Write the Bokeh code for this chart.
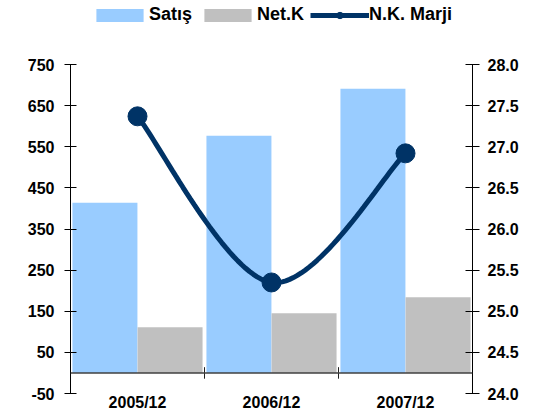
import numpy as np
from bokeh.plotting import figure
from bokeh.models import (Range1d, LinearAxis, FixedTicker, Span, Legend, LegendItem,
                          NumeralTickFormatter, ColumnDataSource)
from bokeh.embed import file_html
from bokeh.resources import INLINE

categories = ["2005/12", "2006/12", "2007/12"]
satis = [414, 577, 691]
net_k = [111, 145, 184]
nk_marji = [27.37, 25.35, 26.92]
left_ticks = [-50, 50, 150, 250, 350, 450, 550, 650, 750]
right_ticks = [24.0, 24.5, 25.0, 25.5, 26.0, 26.5, 27.0, 27.5, 28.0]

FONT = "Liberation Sans"
W, H = 542, 416
BORDER_LR, BORDER_B, HEADROOM = 70, 23, 64   # pixels; headroom above top tick holds the legend
n = len(categories)
x_centers = [i + 0.5 for i in range(n)]
bar_w = 0.485
off = 0.243

# extend the ranges so the frame reaches the top of the canvas (legend lives inside it)
frame_h = H - BORDER_B
axis_px = frame_h - HEADROOM
l_lo, l_hi = left_ticks[0], left_ticks[-1]
r_lo, r_hi = right_ticks[0], right_ticks[-1]
l_end = l_hi + HEADROOM * (l_hi - l_lo) / axis_px
r_end = r_hi + HEADROOM * (r_hi - r_lo) / axis_px

p = figure(width=W, height=H, x_range=Range1d(0, n), y_range=Range1d(l_lo, l_end),
           output_backend="svg", toolbar_location=None,
           min_border_left=BORDER_LR, min_border_right=BORDER_LR, min_border_top=0, min_border_bottom=BORDER_B)
p.extra_y_ranges = {"marj": Range1d(r_lo, r_end)}
p.outline_line_color = None
p.xgrid.visible = False
p.ygrid.visible = False

src = ColumnDataSource(dict(x=x_centers, satis=satis, net_k=net_k, marj=nk_marji,
                            xs=[x - off for x in x_centers], xn=[x + off for x in x_centers]))
r1 = p.vbar(x="xs", top="satis", bottom=0, width=bar_w, source=src, fill_color="#99CCFF", line_color=None)
r2 = p.vbar(x="xn", top="net_k", bottom=0, width=bar_w, source=src, fill_color="#C0C0C0", line_color=None)

# zero line with category separators
p.add_layout(Span(location=0, dimension="width", line_color="#404040", line_width=1.5))
bx = list(range(n + 1))
p.segment(x0=bx, x1=bx, y0=[-14] * (n + 1), y1=[14] * (n + 1), line_color="#202020", line_width=1)

# smoothed line (Bezier through data points)
def smooth(xs, ys, steps=40):
    pts = list(zip(xs, ys))
    ox, oy = [], []
    t = np.linspace(0, 1, steps)
    for i in range(len(pts) - 1):
        p0 = pts[max(i - 1, 0)]; p1 = pts[i]; p2 = pts[i + 1]; p3 = pts[min(i + 2, len(pts) - 1)]
        c1 = (p1[0] + (p2[0] - p0[0]) / 6, p1[1] + (p2[1] - p0[1]) / 6)
        c2 = (p2[0] - (p3[0] - p1[0]) / 6, p2[1] - (p3[1] - p1[1]) / 6)
        bxs = (1 - t) ** 3 * p1[0] + 3 * (1 - t) ** 2 * t * c1[0] + 3 * (1 - t) * t ** 2 * c2[0] + t ** 3 * p2[0]
        bys = (1 - t) ** 3 * p1[1] + 3 * (1 - t) ** 2 * t * c1[1] + 3 * (1 - t) * t ** 2 * c2[1] + t ** 3 * p2[1]
        ox += list(bxs); oy += list(bys)
    return ox, oy

sx, sy = smooth(x_centers, nk_marji)
rl = p.line(sx, sy, line_color="#003366", line_width=5, y_range_name="marj")
rs = p.scatter(x="x", y="marj", source=src, size=19, fill_color="#003366", line_color="#003366", y_range_name="marj")

# left axis
ya = p.yaxis[0]
ya.bounds = (l_lo, l_hi)
ya.ticker = FixedTicker(ticks=left_ticks)
ya.major_label_overrides = {t: str(t) for t in left_ticks}
ya.minor_tick_line_color = None
ya.major_tick_in = 6
ya.major_tick_out = 6
ya.major_label_standoff = 10
ya.axis_line_color = "black"
ya.major_tick_line_color = "black"
ya.major_label_text_font = FONT
ya.major_label_text_font_style = "bold"
ya.major_label_text_font_size = "16px"
ya.major_label_text_color = "black"

# right axis
ra = LinearAxis(y_range_name="marj", ticker=FixedTicker(ticks=right_ticks),
                formatter=NumeralTickFormatter(format="0.0"), bounds=(r_lo, r_hi))
ra.minor_tick_line_color = None
ra.major_tick_in = 7
ra.major_tick_out = 7
ra.major_label_standoff = 8
ra.axis_line_color = "black"
ra.major_label_text_font = FONT
ra.major_label_text_font_style = "bold"
ra.major_label_text_font_size = "16px"
ra.major_label_text_color = "black"
p.add_layout(ra, "right")

# bottom axis: category labels only
xa = p.xaxis[0]
xa.ticker = FixedTicker(ticks=x_centers)
xa.major_label_overrides = {x: c for x, c in zip(x_centers, categories)}
xa.axis_line_color = None
xa.major_tick_line_color = None
xa.minor_tick_line_color = None
xa.major_tick_out = 0
xa.major_tick_in = 0
xa.major_label_standoff = 0
xa.major_label_text_font = FONT
xa.major_label_text_font_style = "bold"
xa.major_label_text_font_size = "16px"
xa.major_label_text_color = "black"

legend = Legend(items=[LegendItem(label="Satış", renderers=[r1]),
                       LegendItem(label="Net.K", renderers=[r2]),
                       LegendItem(label="N.K. Marji", renderers=[rl, rs])],
                orientation="horizontal", location=(20, frame_h - 25),
                glyph_width=59, glyph_height=16, label_standoff=0, spacing=6,
                padding=0, margin=0, border_line_color=None, background_fill_alpha=0,
                label_text_font=FONT, label_text_font_style="bold", label_text_font_size="18px",
                label_text_color="black")
p.add_layout(legend, "center")

open("out.html", "w").write(file_html(p, INLINE))
